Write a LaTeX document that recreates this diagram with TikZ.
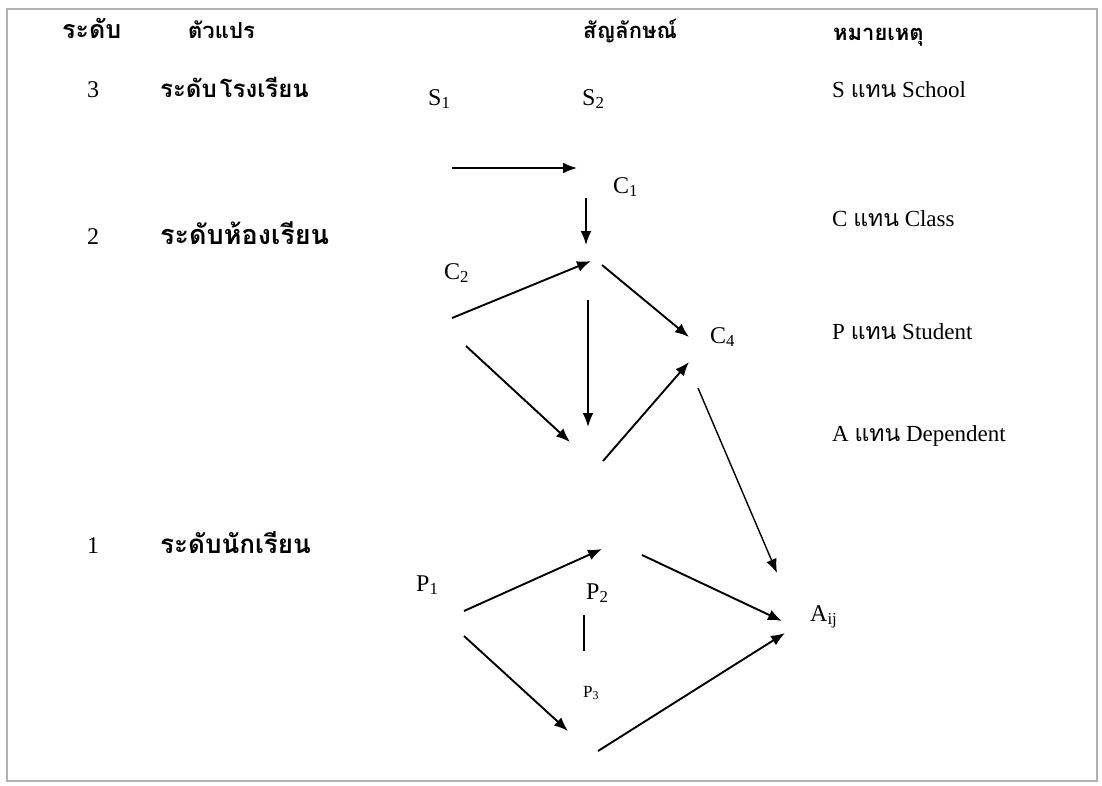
\documentclass[tikz,border=0pt]{standalone}
\usepackage{fontspec}
\setmainfont{Liberation Serif}
\newfontfamily\thai[Script=Thai]{Loma}
\usetikzlibrary{arrows.meta}
\begin{document}
\begin{tikzpicture}[x=1pt,y=-1pt,
  lbl/.style={inner sep=0pt, anchor=base west, font=\fontsize{23}{26}\selectfont},
  sym/.style={inner sep=0pt, anchor=base west, font=\fontsize{24}{26}\selectfont},
  smallsym/.style={inner sep=0pt, anchor=base west, font=\fontsize{17}{20}\selectfont},
  thh/.style={inner sep=0pt, anchor=base west, font=\fontsize{22}{26}\selectfont\thai\bfseries},
  thl/.style={inner sep=0pt, anchor=base west, font=\fontsize{26}{30}\selectfont\thai\bfseries},
  num/.style={inner sep=0pt, anchor=base, font=\fontsize{24}{26}\selectfont},
  arr/.style={line width=1.9pt, -{Latex[length=14pt,width=11pt]}},
  ln/.style={line width=1.9pt}
]
\useasboundingbox (0,0) rectangle (1102,785);
\draw[gray!60, line width=1.6pt] (7,9) rectangle (1097,781);

% header
\node[thh] (h1) at (62,38) {\fontsize{25}{28}\selectfont ระดับ};
\node[thh] (h2) at (188,38) {ตัวแปร};
\node[thh] (h3) at (583,38) {สัญลักษณ์};
\node[thh] (h4) at (833,40) {หมายเหตุ};

% levels
\node[num] (n3) at (93,97) {3};
\node[thl] (l3) at (160,97) {\fontsize{24}{28}\selectfont ระดับ\hspace{3pt}โรงเรียน};
\node[num] (n2) at (93,244) {2};
\node[thl] (l2) at (160,244) {\fontsize{27}{30}\selectfont ระดับห้องเรียน};
\node[num] (n1) at (93,553) {1};
\node[thl] (l1) at (160,553) {ระดับนักเรียน};

% notes
\node[lbl] (nS) at (832,97) {S {\thai แทน} School};
\node[lbl] (nC) at (832,226) {C {\thai แทน} Class};
\node[lbl] (nP) at (832,339) {P {\thai แทน} Student};
\node[lbl] (nA) at (832,441) {A {\thai แทน} Dependent};

% symbols
\node[sym] (S1) at (428,105) {S\textsubscript{1}};
\node[sym] (S2) at (582,105) {S\textsubscript{2}};
\node[sym] (C1) at (613,193) {C\textsubscript{1}};
\node[sym] (C2) at (444,279) {C\textsubscript{2}};
\node[sym] (C4) at (710,343) {C\textsubscript{4}};
\node[sym] (P1) at (416,591) {P\textsubscript{1}};
\node[sym] (P2) at (586,599) {P\textsubscript{2}};
\node[smallsym] (P3) at (583,697) {P\textsubscript{3}};
\node[sym] (Aij) at (810,621) {A\textsubscript{ij}};

% arrow end points
\coordinate (a1s) at (452,168); \coordinate (a1e) at (577,168);
\coordinate (a2s) at (586,198); \coordinate (a2e) at (586,245);
\coordinate (a3s) at (452,318); \coordinate (a3e) at (591,261);
\coordinate (a4s) at (602,265); \coordinate (a4e) at (689,337);
\coordinate (a5s) at (588,300); \coordinate (a5e) at (588,427);
\coordinate (a6s) at (466,346); \coordinate (a6e) at (570,442);
\coordinate (a7s) at (603,461); \coordinate (a7e) at (689,362);
\coordinate (a8s) at (698,388); \coordinate (a8e) at (777,573);
\coordinate (b1s) at (464,611); \coordinate (b1e) at (602,549);
\coordinate (b2s) at (642,555); \coordinate (b2e) at (782,621);
\coordinate (b3s) at (584,615); \coordinate (b3e) at (584,651);
\coordinate (b4s) at (464,636); \coordinate (b4e) at (568,731);
\coordinate (b5s) at (598,751); \coordinate (b5e) at (785,633);

\draw[arr] (a1s) -- (a1e);
\draw[arr] (a2s) -- (a2e);
\draw[arr] (a3s) -- (a3e);
\draw[arr] (a4s) -- (a4e);
\draw[arr] (a5s) -- (a5e);
\draw[arr] (a6s) -- (a6e);
\draw[arr] (a7s) -- (a7e);
\draw[arr, line width=1.4pt] (a8s) -- (a8e);
\draw[arr] (b1s) -- (b1e);
\draw[arr] (b2s) -- (b2e);
\draw[ln] (b3s) -- (b3e);
\draw[arr] (b4s) -- (b4e);
\draw[arr] (b5s) -- (b5e);
\end{tikzpicture}
\end{document}
